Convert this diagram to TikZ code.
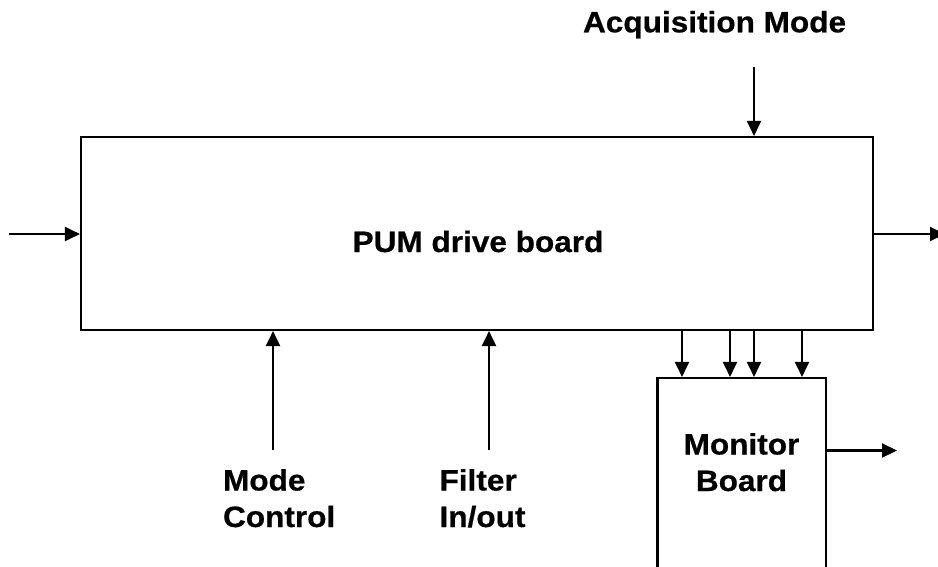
\documentclass[tikz,border=0pt]{standalone}
\usepackage{fontspec}
\setmainfont{Liberation Sans}[FakeStretch=1.07, BoldFeatures={FakeBold=0.6}]
\usetikzlibrary{arrows.meta}
\begin{document}
\begin{tikzpicture}[x=1pt, y=-1pt, line width=2.1pt,
  lbl/.style={font=\bfseries\fontsize{29.5}{36.5}\selectfont, inner sep=0pt},
  board/.style={draw, inner sep=0pt},
  sig/.style={-{Triangle[length=15pt,width=14pt]}}]
\useasboundingbox (0,0) rectangle (938,566);
\clip (0,0) rectangle (938,566);

% boards
\node[board, minimum width=792pt, minimum height=193pt] (pum) at (477,233.5) {};
\node[board, minimum width=168.5pt, minimum height=222pt] (mon) at (741.75,489) {};

% labels (base anchor of a two-line label sits on its last line)
\node[lbl, anchor=base] (pumtxt) at (478,252) {PUM drive board};
\node[lbl, anchor=base, align=center] (montxt) at (741.5,491) {Monitor\\Board};
\node[lbl, anchor=base west] (acqtxt) at (582,32.3) {Acquisition Mode};
\node[lbl, anchor=base west, align=left] (modetxt) at (222,527) {Mode\\Control};
\node[lbl, anchor=base west, align=left] (filttxt) at (438.5,527) {Filter\\In/out};

% free ends of the signal lines
\coordinate (acq) at (754,67);
\coordinate (inL) at (9,234);
\coordinate (outR) at (945,234);
\coordinate (monout) at (897,450.5);
\coordinate (mode) at (273,450);
\coordinate (filt) at (489,450);

% signal lines
\draw[sig] (acq) -- (acq |- pum.north);
\draw[sig] (inL) -- (inL -| pum.west);
\draw[sig] (outR -| pum.east) -- (outR);
\draw[sig] (mode) -- (mode |- pum.south);
\draw[sig] (filt) -- (filt |- pum.south);
\draw[sig] (monout -| mon.east) -- (monout);
\foreach \x in {682,730,754,802} {
  \coordinate (bus\x) at (\x,0);
  \draw[sig] (bus\x |- pum.south) -- (bus\x |- mon.north);
}
\end{tikzpicture}
\end{document}
